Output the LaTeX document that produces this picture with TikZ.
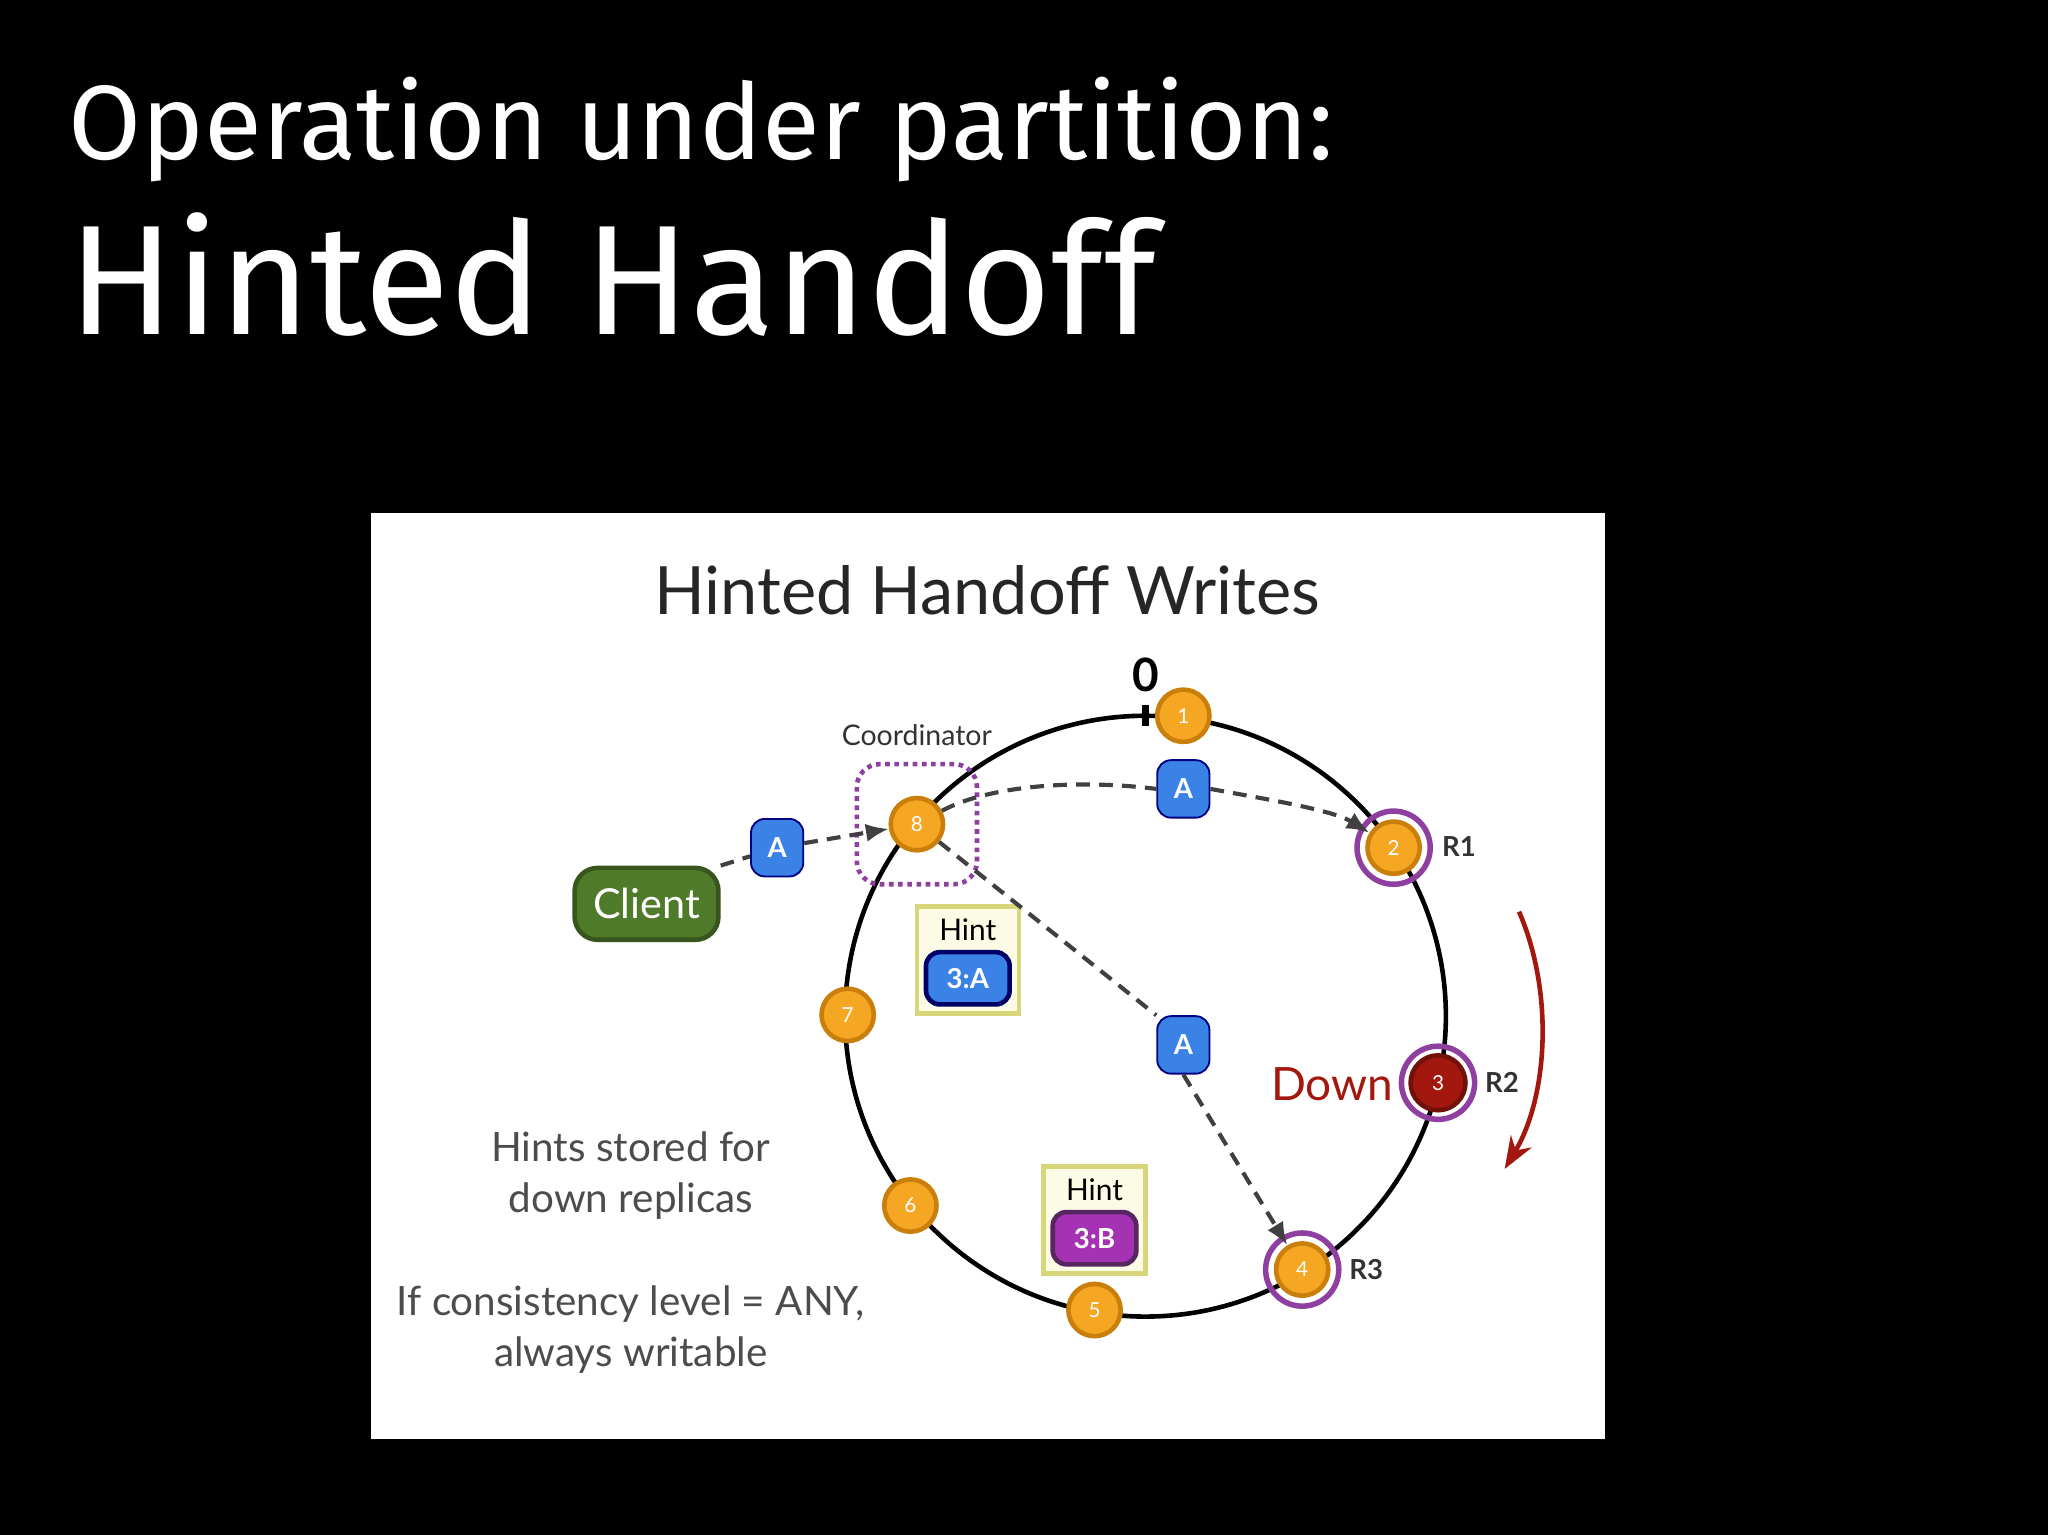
\documentclass[tikz,border=0pt]{standalone}
\usepackage{fontspec}
\setmainfont{Lato}
\newfontfamily\titlefont{Fira Sans}
\usetikzlibrary{arrows.meta}
\definecolor{ornge}{HTML}{F5A623}
\definecolor{orngd}{HTML}{C97F0A}
\definecolor{blu}{HTML}{3B82E6}
\definecolor{grn}{HTML}{4E7A2A}
\definecolor{purp}{HTML}{8E3FA0}
\definecolor{hintbg}{HTML}{FCFCE6}
\definecolor{hintbd}{HTML}{D8D67A}
\definecolor{dred}{HTML}{A2180E}
\tikzset{
 ring/.style={circle,draw=orngd,fill=ornge,line width=1pt,minimum size=0.4cm,inner sep=0pt,font=\fontsize{4.5}{4.5}\selectfont,text=white},
 rep/.style={circle,draw=purp,line width=1.2pt,minimum size=0.56cm},
 abox/.style={rounded corners=3pt,draw=blue!50!black,fill=blu,minimum width=0.4cm,minimum height=0.44cm,inner sep=0pt,font=\bfseries\fontsize{6}{6}\selectfont,text=white},
 hbox/.style={draw=hintbd,fill=hintbg,line width=1pt,minimum width=0.78cm,minimum height=0.82cm},
 arr/.style={densely dashed,line width=0.9pt,draw=black!75,-{Latex[length=5pt,width=4pt]}},
 lbl/.style={font=\fontsize{8.8}{11}\selectfont,text=black!70,align=center}
}
\begin{document}
\begin{tikzpicture}[x=0.01cm,y=-0.01cm]
\fill[black] (0,0) rectangle (1568,1175);
\useasboundingbox (0,0) rectangle (1568,1175);
\node[anchor=base west,text=white,inner sep=0pt,font=\titlefont\fontsize{23}{23}\selectfont] (t1) at (52,122) {Operation under partition:};
\node[anchor=base west,text=white,inner sep=0pt,font=\titlefont\fontsize{34}{34}\selectfont] (t2) at (52,256) {Hinted Handoff};
\fill[white] (284,393) rectangle (1229,1102);
\node[font=\fontsize{14.5}{14.5}\selectfont,text=black!85] (ttl) at (756,452) {Hinted Handoff Writes};
\coordinate (c) at (877,778);
\draw[line width=1pt] (c) circle (230);
\draw[line width=1.5pt] (877,540) -- (877,556);
\node[font=\bfseries\fontsize{10}{10}\selectfont] (zero) at (877,517) {0};
\node[rep] (r2) at (1067,649) {};
\node[rep] (r3) at (1101,829) {};
\node[rep] (r4) at (997,972) {};
\node[ring] (n1) at (906,548) {1};
\node[ring] (n2) at (1067,649) {2};
\node[ring,fill=dred,draw=dred!70!black,minimum size=0.42cm] (n3) at (1101,829) {3};
\node[ring] (n4) at (997,972) {4};
\node[ring] (n5) at (838,1003) {5};
\node[ring] (n6) at (697,923) {6};
\node[ring] (n7) at (649,777) {7};
\node[ring] (n8) at (702,631) {8};
\node[font=\bfseries\fontsize{6}{6}\selectfont,text=black!80] (R1) at (1117,648) {R1};
\node[font=\bfseries\fontsize{6}{6}\selectfont,text=black!80] (R2) at (1150,829) {R2};
\node[font=\bfseries\fontsize{6}{6}\selectfont,text=black!80] (R3) at (1046,972) {R3};
\node[font=\fontsize{6.2}{6.2}\selectfont,text=black!80] (coordl) at (702,563) {Coordinator};
\draw[purp,densely dotted,line width=1pt,rounded corners=5pt] (656,585) rectangle (748,677);
\node[abox] (a1) at (595,649) {A};
\node[abox] (a2) at (906,604) {A};
\node[abox] (a3) at (906,800) {A};
\node[rounded corners=5pt,draw=grn!70!black,fill=grn,line width=1pt,minimum width=1.1cm,minimum height=0.55cm,text=white,font=\fontsize{9}{9}\selectfont] (client) at (495,692) {Client};
\node[hbox] (h1) at (741,735) {};
\node[font=\fontsize{6.5}{6.5}\selectfont] (h1t) at (741,712) {Hint};
\node[abox,minimum width=0.64cm,minimum height=0.4cm,draw=blue!40!black,line width=1pt] (h1a) at (741,749) {3:A};
\node[hbox] (h2) at (838,934) {};
\node[font=\fontsize{6.5}{6.5}\selectfont] (h2t) at (838,911) {Hint};
\node[abox,minimum width=0.64cm,minimum height=0.4cm,fill=purp!80!magenta,draw=purp!60!black,line width=1pt] (h2a) at (838,948) {3:B};
\node[font=\fontsize{10}{10}\selectfont,text=dred] (down) at (1020,830) {Down};
\draw[dred,line width=1pt,-{Stealth[length=7pt]}] (1163,698) .. controls (1190,760) and (1185,840) .. (1152,895);
\draw[densely dashed,line width=0.9pt,draw=black!75] (client.north east) -- (a1);
\draw[arr] (a1) -- (n8);
\draw[densely dashed,line width=0.9pt,draw=black!75] (n8) .. controls (760,600) and (830,597) .. (a2.west);
\draw[arr] (a2.east) .. controls (970,612) and (1020,620) .. (n2);
\draw[densely dashed,line width=0.9pt,draw=black!75] (n8) -- (a3.north west);
\draw[arr] (a3.south) -- (n4);
\node[lbl] (l1) at (483,900) {Hints stored for\\down replicas};
\node[lbl] (l2) at (483,1018) {If consistency level = ANY,\\always writable};
\end{tikzpicture}
\end{document}
